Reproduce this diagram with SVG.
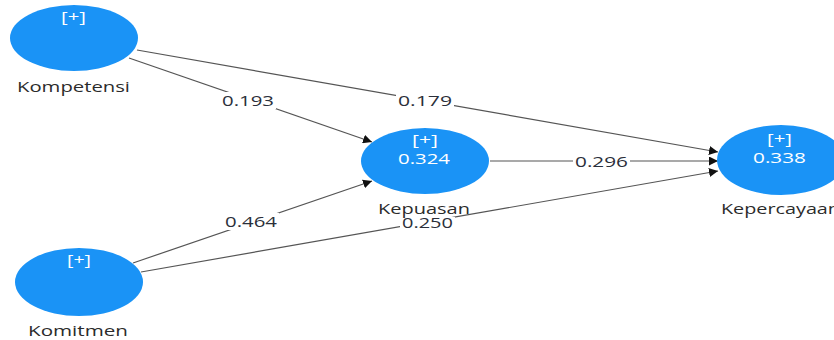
<svg xmlns="http://www.w3.org/2000/svg" width="834" height="340" viewBox="0 0 834 340">
<style>
.node{fill:#1a93f6;}
.in{fill:#ffffff;font-family:"Open Sans","DejaVu Sans",sans-serif;font-size:14px;}
.lbl{fill:#2b2b2b;font-family:"Open Sans","DejaVu Sans",sans-serif;font-size:14px;}
.edge{stroke:#555555;stroke-width:1.2;fill:none;marker-end:url(#arr);}
.bg{fill:#ffffff;}
.w{fill:#2b2f3a;font-family:"Open Sans","DejaVu Sans",sans-serif;font-size:14px;}
</style>
<defs>
<marker id="arr" viewBox="0 0 10 10" refX="10" refY="5" markerWidth="9" markerHeight="9" markerUnits="userSpaceOnUse" orient="auto">
<path d="M0,0 L10,5 L0,10 z" fill="#111111"/>
</marker>
</defs>
<rect width="834" height="340" fill="#ffffff"/>
<g id="connectors">
<line class="edge" x1="129" y1="58" x2="372" y2="142"/>
<line class="edge" x1="137" y1="50" x2="718" y2="152"/>
<line class="edge" x1="490" y1="161" x2="718" y2="161"/>
<line class="edge" x1="133" y1="263" x2="372" y2="181"/>
<line class="edge" x1="141" y1="272" x2="718" y2="171"/>
<rect class="bg" x="220" y="92" width="56" height="17"/>
<text class="w" x="222" y="106" textLength="52" lengthAdjust="spacingAndGlyphs">0.193</text>
<rect class="bg" x="396" y="92" width="58" height="17"/>
<text class="w" x="398" y="106" textLength="54" lengthAdjust="spacingAndGlyphs">0.179</text>
<rect class="bg" x="573" y="153" width="57" height="17"/>
<text class="w" x="575" y="167" textLength="53" lengthAdjust="spacingAndGlyphs">0.296</text>
<rect class="bg" x="223" y="213" width="56" height="17"/>
<text class="w" x="225" y="227" textLength="52" lengthAdjust="spacingAndGlyphs">0.464</text>
<rect class="bg" x="400" y="217" width="55" height="13"/>
<text class="w" x="402" y="228" textLength="51" lengthAdjust="spacingAndGlyphs">0.250</text>
</g>
<g id="Kompetensi">
<ellipse class="node" cx="74" cy="38" rx="64" ry="33"/>
<text class="in" x="61" y="22" textLength="25" lengthAdjust="spacingAndGlyphs">[+]</text>
<text class="lbl" x="17" y="92" textLength="113" lengthAdjust="spacingAndGlyphs">Kompetensi</text>
</g>
<g id="Komitmen">
<ellipse class="node" cx="79" cy="282" rx="64" ry="34"/>
<text class="in" x="67" y="265" textLength="24" lengthAdjust="spacingAndGlyphs">[+]</text>
<text class="lbl" x="28" y="336" textLength="100" lengthAdjust="spacingAndGlyphs">Komitmen</text>
</g>
<g id="Kepuasan">
<ellipse class="node" cx="425" cy="161" rx="64" ry="33"/>
<text class="in" x="412" y="145" textLength="26" lengthAdjust="spacingAndGlyphs">[+]</text>
<text class="in" x="398" y="164" textLength="52" lengthAdjust="spacingAndGlyphs">0.324</text>
<text class="lbl" x="378" y="214" textLength="92" lengthAdjust="spacingAndGlyphs">Kepuasan</text>
</g>
<g id="Kepercayaan">
<ellipse class="node" cx="781" cy="160" rx="64" ry="35"/>
<text class="in" x="767" y="144" textLength="25" lengthAdjust="spacingAndGlyphs">[+]</text>
<text class="in" x="753" y="163" textLength="53" lengthAdjust="spacingAndGlyphs">0.338</text>
<text class="lbl" x="721" y="214" textLength="119" lengthAdjust="spacingAndGlyphs">Kepercayaan</text>
</g>
</svg>
